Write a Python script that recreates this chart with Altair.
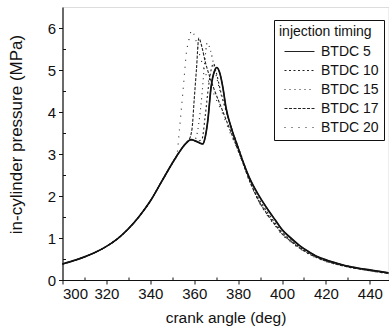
import altair as alt
import pandas as pd

series_names = ["BTDC 5", "BTDC 10", "BTDC 15", "BTDC 17", "BTDC 20"]

# common compression part (all curves)
comp_deg = [300, 305, 310, 315, 320, 325, 330, 335, 340, 345, 350]
comp_p = [0.38, 0.46, 0.55, 0.66, 0.80, 0.98, 1.22, 1.52, 1.88, 2.33, 2.78]

btdc5_deg = [353, 356, 358.6, 361, 363.9, 365, 366.2, 367.7, 369.2, 370.3, 371.5, 373, 374.5,
             377, 380, 382, 385, 389, 393, 397, 400, 404, 408, 412, 416, 420, 425, 430,
             435, 440, 445, 448.5]
btdc5_p = [3.03, 3.24, 3.34, 3.30, 3.24, 3.40, 3.80, 4.60, 4.97, 5.06, 4.95, 4.60, 4.10,
           3.60, 3.15, 2.85, 2.45, 2.05, 1.72, 1.42, 1.20, 1.00, 0.82, 0.68, 0.56, 0.48,
           0.40, 0.33, 0.28, 0.24, 0.20, 0.17]

btdc10_deg = [353, 356, 358.5, 361, 363.5, 365, 366.5, 367.7, 368.8, 370, 372, 375, 378, 381, 385]
btdc10_p = [3.03, 3.24, 3.34, 3.30, 3.35, 3.90, 4.60, 5.00, 5.15, 4.95, 4.50, 3.95, 3.45, 3.00, 2.38]

btdc15_deg = [353, 356, 358.5, 360.5, 362, 363.5, 364.8, 365.9, 367.5, 369, 371, 373, 376, 379, 382, 385]
btdc15_p = [3.03, 3.24, 3.34, 3.36, 3.70, 4.40, 5.20, 5.64, 5.45, 5.10, 4.65, 4.28, 3.78, 3.32, 2.88, 2.42]

btdc17_deg = [353, 356, 357.5, 359, 360, 361, 362.1, 363.5, 365, 367, 369, 372, 375, 378, 381, 385]
btdc17_p = [3.03, 3.24, 3.32, 3.60, 4.30, 5.00, 5.76, 5.55, 5.20, 4.85, 4.55, 4.15, 3.75, 3.35, 2.95, 2.40]

btdc20_deg = [352, 353.3, 354.1, 354.8, 355.6, 356.4, 357.4, 358.9, 360.5, 362, 364, 366, 368,
              370, 373, 376, 379, 382, 385]
btdc20_p = [2.95, 3.60, 4.05, 4.45, 4.93, 5.40, 5.68, 5.94, 5.75, 5.45, 5.10, 4.80, 4.55,
            4.30, 3.95, 3.55, 3.20, 2.80, 2.38]

# expansion part of the advanced-timing curves
exp_deg = [389, 393, 397, 400, 404, 408, 412, 416, 420, 425, 430, 435, 440, 445, 448.5]
btdc10_exp = [1.97, 1.64, 1.35, 1.14, 0.95, 0.78, 0.65, 0.54, 0.46, 0.38, 0.32, 0.27, 0.23, 0.19, 0.16]
btdc15_exp = [1.93, 1.60, 1.32, 1.11, 0.93, 0.77, 0.64, 0.53, 0.45, 0.38, 0.31, 0.26, 0.22, 0.19, 0.16]
btdc17_exp = [1.92, 1.58, 1.30, 1.10, 0.92, 0.76, 0.63, 0.53, 0.45, 0.37, 0.31, 0.26, 0.22, 0.18, 0.16]
btdc20_exp = [1.90, 1.56, 1.28, 1.08, 0.90, 0.75, 0.62, 0.52, 0.44, 0.37, 0.31, 0.26, 0.22, 0.18, 0.15]

x_ticks = [300, 320, 340, 360, 380, 400, 420, 440]
y_ticks = [0, 1, 2, 3, 4, 5, 6]
x_minor = [310, 330, 350, 370, 390, 410, 430]
y_minor = [0.5, 1.5, 2.5, 3.5, 4.5, 5.5]

rows = []
def add(name, degs, ps):
    for d, p in zip(degs, ps):
        rows.append({"series": name, "angle": d, "pressure": p})

add("BTDC 5", comp_deg + btdc5_deg, comp_p + btdc5_p)
add("BTDC 10", comp_deg + btdc10_deg + exp_deg, comp_p + btdc10_p + btdc10_exp)
add("BTDC 15", comp_deg + btdc15_deg + exp_deg, comp_p + btdc15_p + btdc15_exp)
add("BTDC 17", comp_deg + btdc17_deg + exp_deg, comp_p + btdc17_p + btdc17_exp)
add("BTDC 20", comp_deg + btdc20_deg + exp_deg, comp_p + btdc20_p + btdc20_exp)
df = pd.DataFrame(rows)

FONT = "Liberation Sans"
xscale = alt.Scale(domain=[300, 448.5], nice=False, zero=False)
yscale = alt.Scale(domain=[0, 6.5], nice=False)

dash_range = [[1, 0], [2, 2.5], [1, 4], [3, 1.5], [1, 6]]

lines = alt.Chart(df).mark_line(interpolate="monotone", strokeWidth=1.1, color="#222").encode(
    x=alt.X("angle:Q", scale=xscale,
            axis=alt.Axis(orient="bottom", title="crank angle (deg)", values=x_ticks, tickSize=4,
                          labelFontSize=15, titleFontSize=15.5, titleFontWeight="normal",
                          labelPadding=2, titlePadding=9, grid=False, labelFont=FONT,
                          titleFont=FONT, domainColor="#111", tickColor="#111",
                          labelColor="#111", titleColor="#111", domainWidth=1.2)),
    y=alt.Y("pressure:Q", scale=yscale,
            axis=alt.Axis(orient="left", title="in-cylinder pressure (MPa)", values=y_ticks, tickSize=4,
                          labelFontSize=15, titleFontSize=17, titleFontWeight="normal",
                          labelPadding=3, grid=False, labelFont=FONT, titleFont=FONT,
                          titleX=-37, titleY=127, domainColor="#111", tickColor="#111",
                          labelColor="#111", titleColor="#111", domainWidth=1.2)),
    strokeDash=alt.StrokeDash("series:N", scale=alt.Scale(domain=series_names, range=dash_range),
                              legend=alt.Legend(title="injection timing", orient="none",
                                                legendX=211.5, legendY=13,
                                                strokeColor="#111", padding=5,
                                                fillColor="white",
                                                titleFontSize=14, labelFontSize=14,
                                                titleFont=FONT, labelFont=FONT,
                                                titleFontWeight="normal",
                                                titleColor="#111", labelColor="#111",
                                                symbolType="M-2,0H2", symbolSize=225,
                                                symbolOffset=12,
                                                symbolStrokeColor="#222",
                                                symbolStrokeWidth=1.1,
                                                rowPadding=3, labelOffset=13,
                                                titlePadding=4)),
    detail="series:N",
)

solid = alt.Chart(df).transform_filter(alt.datum.series == "BTDC 5").mark_line(
    interpolate="monotone", strokeWidth=1.7, color="#111").encode(
    x=alt.X("angle:Q", scale=xscale, axis=None),
    y=alt.Y("pressure:Q", scale=yscale, axis=None),
)

minor = alt.Chart(df).mark_point(opacity=0).encode(
    x=alt.X("angle:Q", scale=xscale,
            axis=alt.Axis(orient="bottom", values=x_minor, labels=False, domain=False,
                          tickSize=3, offset=-3, title=None, grid=False, tickColor="#111")),
    y=alt.Y("pressure:Q", scale=yscale,
            axis=alt.Axis(orient="left", values=y_minor, labels=False, domain=False,
                          tickSize=3, offset=-3, title=None, grid=False, tickColor="#111")),
)

chart = alt.layer(lines, solid, minor).resolve_axis(x="independent", y="independent").properties(
    width=326, height=273,
    autosize=alt.AutoSizeParams(type="none"),
    padding={"left": 62.5, "top": 7, "right": 0, "bottom": 55},
).configure_view(stroke="#111", strokeWidth=1.2).configure(background="white")

chart.save("out.html", embed_options={"renderer": "svg", "actions": False})
